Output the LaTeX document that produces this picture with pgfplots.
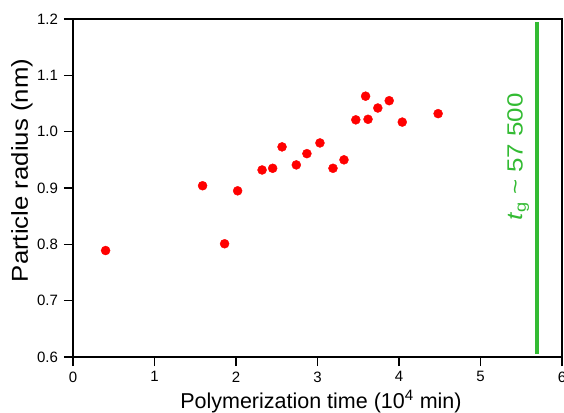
\documentclass[border=0pt]{standalone}
\usepackage{pgfplots}
\pgfplotsset{compat=1.18}
\usepackage{fontspec}
\setmainfont{Liberation Sans}
\definecolor{gline}{RGB}{51,187,51}
\definecolor{pred}{RGB}{255,0,0}
\begin{document}
\begin{tikzpicture}
\begin{axis}[
  name=ax,
  scale only axis,
  width=489pt, height=338pt,
  xmin=0, xmax=6, ymin=0.6, ymax=1.2,
  xtick={0,1,2,3,4,5,6},
  ytick={0.6,0.7,0.8,0.9,1.0,1.1,1.2},
  xtick pos=bottom, ytick pos=left,
  tick align=outside,
  major tick length=9pt,
  tick style={line width=1.2pt, black},
  axis line style={line width=1.4pt},
  /pgf/number format/assume math mode=true,
  xticklabel={\fontsize{15}{17}\selectfont\pgfmathprintnumber{\tick}},
  yticklabel={\fontsize{15}{17}\selectfont\pgfmathprintnumber[fixed,fixed zerofill,precision=1]{\tick}},
  xticklabel style={yshift=-2pt},
  yticklabel style={xshift=-2.5pt},
  xlabel={Polymerization time (10\textsuperscript{4} min)},
  ylabel={\scalebox{1.12}[1]{Particle radius (nm)}},
  xlabel style={font=\fontsize{21.5}{25}\selectfont, at={(rel axis cs:0.507,0)}, anchor=base, yshift=-51pt},
  ylabel style={font=\fontsize{23}{27}\selectfont, at={(rel axis cs:0,0.552)}, anchor=center, rotate=0, yshift=51pt},
  clip=false,
]
\addplot[only marks, color=pred, mark=*, mark size=4.5pt] coordinates {
(0.40,0.789) (1.59,0.904) (1.86,0.801) (2.02,0.895) (2.32,0.932)
(2.45,0.935) (2.565,0.973) (2.74,0.941) (2.87,0.961) (3.03,0.980)
(3.19,0.935) (3.325,0.950) (3.47,1.021) (3.59,1.063) (3.62,1.022)
(3.74,1.042) (3.88,1.055) (4.04,1.017) (4.48,1.032)
};
\addplot[gline, line width=4pt] coordinates {(5.69,0.605) (5.69,1.195)};
\node[rotate=90, anchor=base, text=gline, font=\fontsize{22}{26}\selectfont, yshift=14pt] at (axis cs:5.69,0.955) {\scalebox{1.18}[1]{\textit{t}\textsubscript{g} \textasciitilde\ 57 500}};
\end{axis}
\pgfresetboundingbox
\path[use as bounding box] ([xshift=-73pt,yshift=-55pt]ax.south west) rectangle ([xshift=2pt,yshift=19pt]ax.north east);
\end{tikzpicture}
\end{document}
